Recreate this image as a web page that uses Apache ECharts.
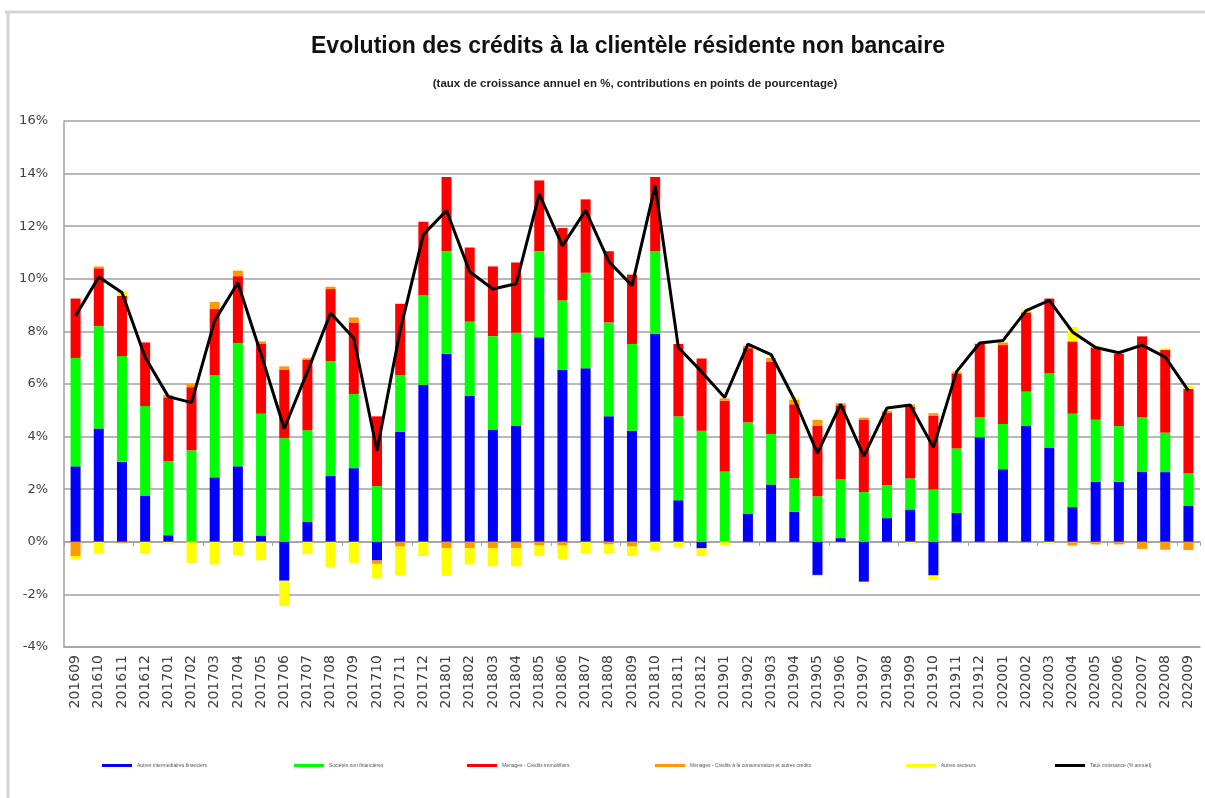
<!DOCTYPE html>
<html>
<head>
<meta charset="utf-8">
<script src="https://cdn.jsdelivr.net/npm/echarts@6/dist/echarts.min.js"></script>
<style>
  html, body { margin: 0; padding: 0; background: #fff; }
  #chart { width: 1205px; height: 798px; }
</style>
</head>
<body>
<div id="chart"></div>
<script>
// categories (yyyymm)
var months = [
  "201609", "201610", "201611", "201612",
  "201701", "201702", "201703", "201704", "201705", "201706",
  "201707", "201708", "201709", "201710", "201711", "201712",
  "201801", "201802", "201803", "201804", "201805", "201806",
  "201807", "201808", "201809", "201810", "201811", "201812",
  "201901", "201902", "201903", "201904", "201905", "201906",
  "201907", "201908", "201909", "201910", "201911", "201912",
  "202001", "202002", "202003", "202004", "202005", "202006",
  "202007", "202008", "202009"
];

// contributions en points de pourcentage
var autresIntermediaires = [
  2.87, 4.31, 3.04, 1.76,
  0.25, 0, 2.45, 2.87, 0.24, -1.48,
  0.77, 2.5, 2.8, -0.71, 4.18, 5.97,
  7.15, 5.55, 4.27, 4.4, 7.78, 6.54,
  6.6, 4.77, 4.22, 7.91, 1.58, -0.25,
  0, 1.06, 2.18, 1.14, -1.26, 0.14,
  -1.52, 0.9, 1.23, -1.28, 1.1, 3.98,
  2.76, 4.4, 3.59, 1.32, 2.28, 2.28,
  2.67, 2.65, 1.38
];
var societesNonFin = [
  4.12, 3.89, 4.02, 3.4,
  2.81, 3.48, 3.89, 4.69, 4.63, 3.94,
  3.47, 4.36, 2.82, 2.12, 2.16, 3.41,
  3.9, 2.82, 3.55, 3.55, 3.27, 2.64,
  3.63, 3.57, 3.3, 3.14, 3.19, 4.22,
  2.67, 3.48, 1.92, 1.28, 1.73, 2.23,
  1.89, 1.25, 1.18, 1.99, 2.45, 0.75,
  1.72, 1.31, 2.81, 3.55, 2.36, 2.12,
  2.06, 1.5, 1.23
];
var menagesImmo = [
  2.26, 2.2, 2.29, 2.42,
  2.43, 2.4, 2.51, 2.54, 2.67, 2.6,
  2.69, 2.75, 2.72, 2.65, 2.71, 2.79,
  2.82, 2.82, 2.65, 2.67, 2.69, 2.75,
  2.79, 2.71, 2.64, 2.82, 2.75, 2.75,
  2.69, 2.82, 2.75, 2.81, 2.68, 2.82,
  2.76, 2.75, 2.72, 2.81, 2.85, 2.79,
  3.0, 2.99, 2.85, 2.75, 2.75, 2.75,
  3.08, 3.15, 3.21
];
var menagesConso = [
  -0.54, 0.07, -0.05, 0,
  0.09, 0.13, 0.27, 0.21, 0.08, 0.13,
  0.05, 0.09, 0.19, -0.13, -0.18, 0,
  -0.24, -0.24, -0.24, -0.24, -0.14, -0.14,
  0, -0.1, -0.18, 0, 0, 0,
  0.09, 0.09, 0.14, 0.17, 0.23, 0.08,
  0.07, 0.08, 0.09, 0.09, 0.05, 0,
  0.1, 0.04, 0, -0.14, -0.1, -0.1,
  -0.27, -0.3, -0.31
];
var autresSecteurs = [
  -0.13, -0.45, 0.17, -0.45,
  -0.05, -0.8, -0.86, -0.5, -0.7, -0.96,
  -0.47, -0.97, -0.8, -0.55, -1.1, -0.54,
  -1.04, -0.62, -0.69, -0.69, -0.4, -0.53,
  -0.45, -0.35, -0.36, -0.34, -0.21, -0.29,
  -0.14, 0, 0, 0.09, -0.05, 0,
  -0.03, 0, -0.05, -0.16, 0.05, 0.04,
  0, 0.12, -0.05, 0.55, 0.06, 0,
  0, 0.06, 0.12
];
// taux de croissance annuel (%)
var tauxCroissance = [
  8.59, 10.07, 9.48, 7.02,
  5.52, 5.29, 8.41, 9.85, 7.13, 4.31,
  6.47, 8.7, 7.74, 3.46, 8.04, 11.68,
  12.6, 10.27, 9.61, 9.81, 13.22, 11.25,
  12.6, 10.66, 9.74, 13.54, 7.39, 6.47,
  5.49, 7.52, 7.12, 5.42, 3.37, 5.23,
  3.26, 5.09, 5.2, 3.59, 6.47, 7.56,
  7.65, 8.79, 9.18, 7.98, 7.39, 7.19,
  7.48, 7.02, 5.75
];

var seriesNames = [
  "Autres intermédiaires financiers",
  "Sociétés non financières",
  "Ménages - Crédits immobiliers",
  "Ménages - Crédits à la consommation et autres crédits",
  "Autres secteurs",
  "Taux croissance (% annuel)"
];
var legendLeft = [97, 289, 462, 650, 901, 1050];

var chart = echarts.init(document.getElementById("chart"));

function barSeries(name, color, data) {
  return {
    name: name,
    type: "bar",
    stack: "contrib",
    barWidth: 10,
    itemStyle: { color: color },
    data: data
  };
}

var legends = seriesNames.map(function (n, i) {
  return {
    data: [n],
    left: legendLeft[i],
    top: 758,
    icon: "rect",
    itemWidth: 30,
    itemHeight: 3,
    itemGap: 4,
    selectedMode: false,
    textStyle: { fontSize: 5, color: "#555", fontFamily: "Liberation Sans" }
  };
});

chart.setOption({
  animation: false,
  backgroundColor: "#fff",
  title: [
    {
      text: "Evolution des crédits à la clientèle résidente non bancaire",
      left: 623,
      top: 30,
      textAlign: "center",
      textStyle: { fontFamily: "Liberation Sans", fontSize: 23, fontWeight: "bold", color: "#111" }
    },
    {
      text: "(taux de croissance annuel en %, contributions en points de pourcentage)",
      left: 630,
      top: 73,
      textAlign: "center",
      textStyle: { fontFamily: "Liberation Sans", fontSize: 11.5, fontWeight: "bold", color: "#222" }
    }
  ],
  legend: legends,
  graphic: [
    { type: "line", shape: { x1: 5, y1: 12, x2: 1205, y2: 12 }, style: { stroke: "#d4d4d4", lineWidth: 3 } },
    { type: "line", shape: { x1: 8, y1: 12, x2: 8, y2: 798 }, style: { stroke: "#d4d4d4", lineWidth: 3 } }
  ],
  grid: { left: 64, right: 5, top: 121, bottom: 151 },
  xAxis: [
    {
      type: "category",
      data: months,
      position: "bottom",
      axisLine: { onZero: false, lineStyle: { color: "#a0a0a0", width: 1.5 } },
      axisTick: { show: false },
      axisLabel: {
        rotate: 90,
        interval: 0,
        margin: 8,
        fontFamily: "DejaVu Sans",
        fontSize: 14,
        color: "#404040"
      }
    },
    {
      type: "category",
      data: months,
      position: "top",
      axisLine: { onZero: true, lineStyle: { color: "#a0a0a0", width: 1.5 } },
      axisTick: { show: true, inside: true, length: 4, lineStyle: { color: "#a0a0a0" } },
      axisLabel: { show: false },
      splitLine: { show: false }
    }
  ],
  yAxis: {
    type: "value",
    min: -4,
    max: 16,
    interval: 2,
    axisLine: { show: true, lineStyle: { color: "#a0a0a0", width: 1.5 } },
    axisTick: { show: false },
    splitLine: { lineStyle: { color: "#a0a0a0", width: 1.5 } },
    axisLabel: {
      formatter: "{value}%",
      margin: 16,
      fontFamily: "DejaVu Sans",
      fontSize: 13,
      color: "#404040"
    }
  },
  series: [
    barSeries(seriesNames[0], "#0000ff", autresIntermediaires),
    barSeries(seriesNames[1], "#00ff00", societesNonFin),
    barSeries(seriesNames[2], "#ff0000", menagesImmo),
    barSeries(seriesNames[3], "#ff9900", menagesConso),
    barSeries(seriesNames[4], "#ffff00", autresSecteurs),
    {
      name: seriesNames[5],
      type: "line",
      data: tauxCroissance,
      symbol: "none",
      z: 10,
      itemStyle: { color: "#000" },
      lineStyle: { color: "#000", width: 3 }
    }
  ]
});
</script>
</body>
</html>
